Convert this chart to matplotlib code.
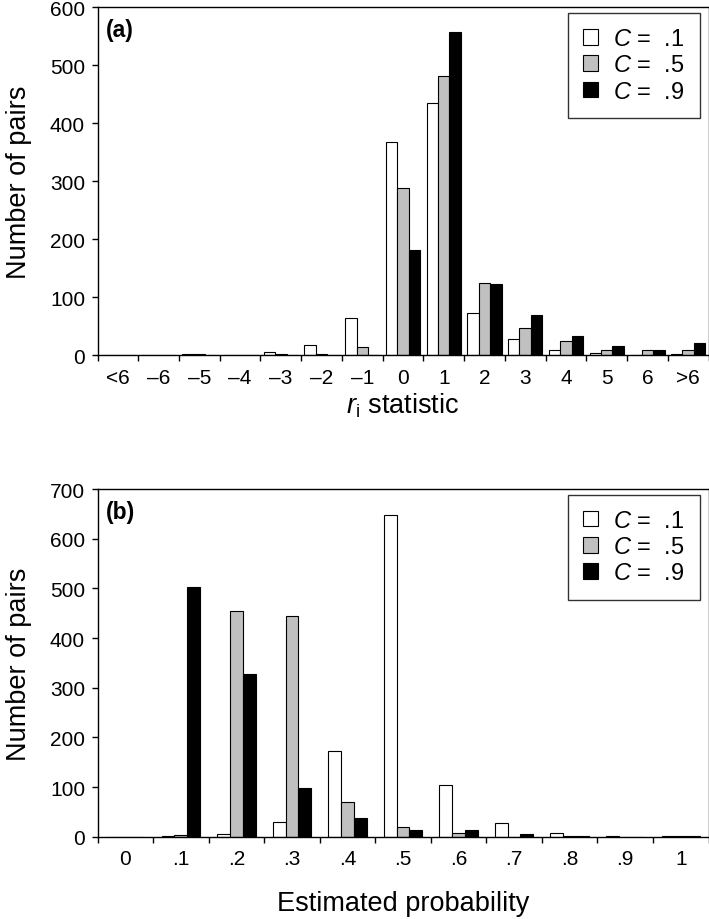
import matplotlib
matplotlib.use("Agg")
import matplotlib.pyplot as plt
import numpy as np

plt.rcParams['font.family'] = ['Liberation Sans', 'DejaVu Sans']
plt.rcParams['mathtext.fontset'] = 'custom'
plt.rcParams['mathtext.rm'] = 'Liberation Sans'
plt.rcParams['mathtext.it'] = 'Liberation Sans:italic'

# (a) r_i statistic
ri_labels = ['<6', '\u20136', '\u20135', '\u20134', '\u20133', '\u20132', '\u20131',
             '0', '1', '2', '3', '4', '5', '6', '>6']
ri_c1 = [0, 0, 2, 0, 6, 18, 64, 368, 434, 72, 28, 8, 4, 0, 1]
ri_c5 = [0, 0, 1, 0, 2, 1, 13, 288, 481, 125, 46, 24, 9, 9, 8]
ri_c9 = [0, 0, 0, 0, 0, 0, 0, 181, 558, 123, 69, 32, 15, 8, 20]

# (b) estimated probability
prob_labels = ['0', '.1', '.2', '.3', '.4', '.5', '.6', '.7', '.8', '.9', '1']
prob_c1 = [0, 1, 5, 30, 173, 648, 105, 28, 7, 2, 1]
prob_c5 = [0, 3, 454, 444, 69, 19, 7, 0, 1, 0, 1]
prob_c9 = [0, 502, 327, 99, 37, 14, 13, 5, 2, 0, 1]

legend_labels = ['$C$ =  .1', '$C$ =  .5', '$C$ =  .9']
fills = ['white', '#c0c0c0', 'black']


def draw_panel(ax, labels, series, ymax, w, tag, xlabel, xlabelpad):
    n = len(labels)
    x = np.arange(n)
    for k, (vals, fc) in enumerate(zip(series, fills)):
        ax.bar(x + (k - 1) * w, vals, width=w, color=fc, edgecolor='black',
               linewidth=0.8, label=legend_labels[k])
    ax.set_xlim(-0.5, n - 0.5)
    ax.set_ylim(0, ymax)
    ax.set_yticks(np.arange(0, ymax + 1, 100))
    ax.set_xticks(np.arange(n + 1) - 0.5)
    ax.set_xticklabels([])
    ax.set_xticks(x, minor=True)
    ax.set_xticklabels(labels, minor=True)
    ax.tick_params(axis='x', which='major', direction='out', length=4, width=1)
    ax.tick_params(axis='x', which='minor', length=0, pad=9, labelsize=15)
    ax.tick_params(axis='y', direction='out', length=4, width=1, pad=5, labelsize=15)
    for sp in ax.spines.values():
        sp.set_linewidth(1.0)
    ax.set_ylabel('Number of pairs', fontsize=19.5)
    ax.yaxis.set_label_coords(-0.108, 0.5)
    ax.set_xlabel(xlabel, fontsize=19.5, labelpad=xlabelpad)
    ax.text(0.014, 0.935, tag, transform=ax.transAxes, fontsize=16.5,
            fontweight='bold', va='center', ha='left')
    leg = ax.legend(loc='upper right', bbox_to_anchor=(0.986, 0.984),
                    borderaxespad=0, fontsize=17, frameon=True, fancybox=False,
                    edgecolor='black', handlelength=0.64, handleheight=0.64,
                    handletextpad=0.65, labelspacing=0.18, borderpad=0.65)
    leg.get_frame().set_linewidth(1.0)


fig = plt.figure(figsize=(7.09, 9.2), dpi=100)
ax1 = fig.add_axes([97.5 / 709, 1 - 356 / 920, 611 / 709, 347.7 / 920])
ax2 = fig.add_axes([97.5 / 709, 1 - 837.7 / 920, 611 / 709, 347.7 / 920])

draw_panel(ax1, ri_labels, [ri_c1, ri_c5, ri_c9], 600, 0.28, '(a)',
           '$r_{\\mathrm{i}}$ statistic', 3)
draw_panel(ax2, prob_labels, [prob_c1, prob_c5, prob_c9], 700, 0.23, '(b)',
           'Estimated probability', 16)

fig.savefig('out.png', dpi=100)
